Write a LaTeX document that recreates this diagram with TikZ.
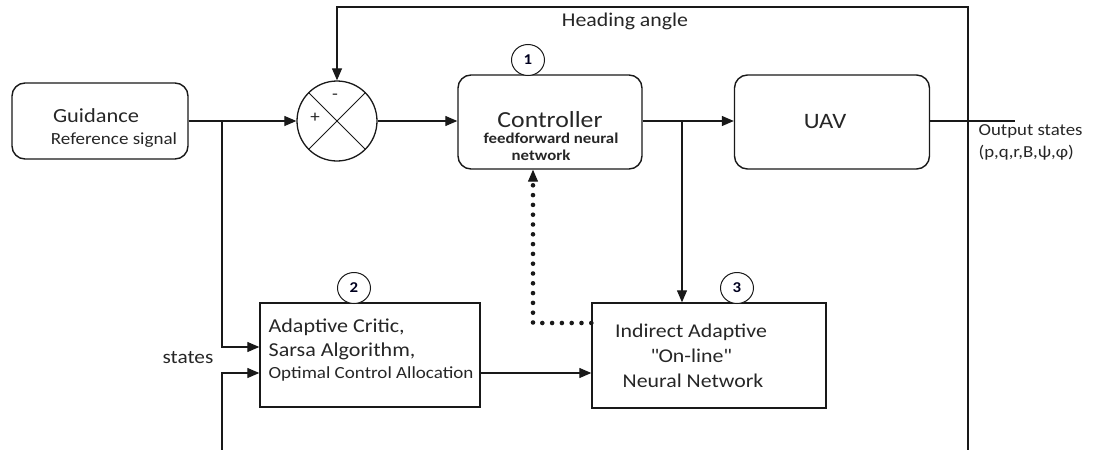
\documentclass[tikz,border=0pt]{standalone}
\usepackage{fontspec}
\setmainfont{Carlito}[FakeStretch=1.12]
\usetikzlibrary{arrows.meta,shapes.geometric}

\begin{document}
\begin{tikzpicture}[x=1pt,y=-1pt,
  line width=1.25pt, draw=black!90,
  tip/.style={-{Triangle[length=12pt,width=10pt]}},
  rbox/.style={draw, rounded corners=13pt, line width=1.4pt, inner sep=0pt},
  sbox/.style={draw, line width=1.4pt, inner sep=0pt},
  badge/.style={draw, ellipse, minimum width=33pt, minimum height=31pt, inner sep=0pt,
    line width=1pt, fill=white, text=black!80!blue!60!black, font=\fontsize{15}{15}\selectfont\bfseries},
  txt/.style={inner sep=0pt, text=black!85, anchor=base},
  ltxt/.style={inner sep=0pt, text=black!85, anchor=base west},
  dotlink/.style={line width=4.6pt, line cap=round, dash pattern=on 0pt off 9.8pt},
  fs/.style={font=\fontsize{#1}{#1}\selectfont},
  fsb/.style={font=\fontsize{#1}{#1}\selectfont\bfseries}
]
\useasboundingbox (0,0) rectangle (1093,450);

% blocks
\node[rbox, minimum width=176pt, minimum height=76pt] (guid) at (100,121) {};
\node[draw, circle, minimum size=80pt, inner sep=0pt, line width=1.3pt] (sum) at (337,121) {};
\node[rbox, minimum width=184pt, minimum height=94pt] (ctrl) at (550,122) {};
\node[rbox, minimum width=195pt, minimum height=94pt] (uav) at (832,122) {};
\node[sbox, minimum width=220pt, minimum height=104pt] (b2) at (370,355) {};
\node[sbox, minimum width=234pt, minimum height=105pt] (b3) at (709,355.5) {};

% summing junction cross and signs
\draw[line width=1pt] (sum.north west) -- (sum.south east);
\draw[line width=1pt] (sum.north east) -- (sum.south west);
\node[txt, fs=17] (minus) at (335,99) {-};
\node[txt, fs=17] (plus) at (315,122) {+};

% block labels
\node[txt, fs=20] (tguid) at (96,122) {Guidance};
\node[txt, fs=17] (tref) at (114,144) {Reference signal};
\node[txt, fs=23] (tctrl) at (550,127) {Controller};
\node[txt, fsb=15] (tff) at (551,143) {feedforward neural};
\node[txt, fsb=15] (tnet) at (541,160) {network};
\node[txt, fs=22] (tuav) at (825,128) {UAV};
\node[ltxt, fs=19.7] (tac) at (268,332) {Adaptive Critic,};
\node[ltxt, fs=19.7] (tsa) at (268,356) {Sarsa Algorithm,};
\node[ltxt, fs=17] (toc) at (268,378) {Optimal Control Allocation};
\node[txt, fs=19.5] (tind) at (691,337) {Indirect Adaptive};
\node[txt, fs=19.5] (ton) at (691,362) {\textquotedbl On-line\textquotedbl};
\node[txt, fs=19.5] (tnn) at (693,387) {Neural Network};

% numbered markers
\node[badge] (n1) at (528,60) {1};
\node[badge] (n2) at (354,288) {2};
\node[badge] (n3) at (737,288) {3};

% signal labels
\node[txt, fs=19.5] (thead) at (625,26) {Heading angle};
\node[ltxt, fs=16.8] (tout1) at (978,135) {Output states};
\node[ltxt, fs=16.8] (tout2) at (978,157) {(p,q,r,B,ψ,φ)};
\node[ltxt, fs=19] (tst) at (162,363) {states};

% junction and corner points
\coordinate (br1) at (222,121);
\coordinate (br2) at (682,121);
\coordinate (botl) at (222,450);
\coordinate (botr) at (968,450);
\coordinate (topr) at (968,7);
\coordinate (outend) at (1015,121);
\coordinate (dotc) at (533,323);

% connectors
\draw[tip] (guid.east) -- (sum.west);
\draw[tip] (sum.east) -- (ctrl.west |- sum.east);
\draw[tip] (ctrl.east |- sum.east) -- (uav.west |- sum.east);
\draw (uav.east |- sum.east) -- (outend);
\draw[tip] (botr) -- (topr) -| (sum.north);
\draw[tip] (br1) |- ([yshift=8pt]b2.west);
\draw[tip] (botl) |- ([yshift=-18pt]b2.west);
\draw[tip] ([yshift=-18pt]b2.east) -- ([yshift=-18pt]b2.east -| b3.west);
\draw[tip] (br2) -- (br2 |- b3.north);
\draw[dotlink] (b3.west |- dotc) -- (dotc) -- ([yshift=-12pt]ctrl.south -| dotc);
\draw[tip] ([yshift=-10pt]ctrl.south -| dotc) -- (ctrl.south -| dotc);
\end{tikzpicture}
\end{document}
